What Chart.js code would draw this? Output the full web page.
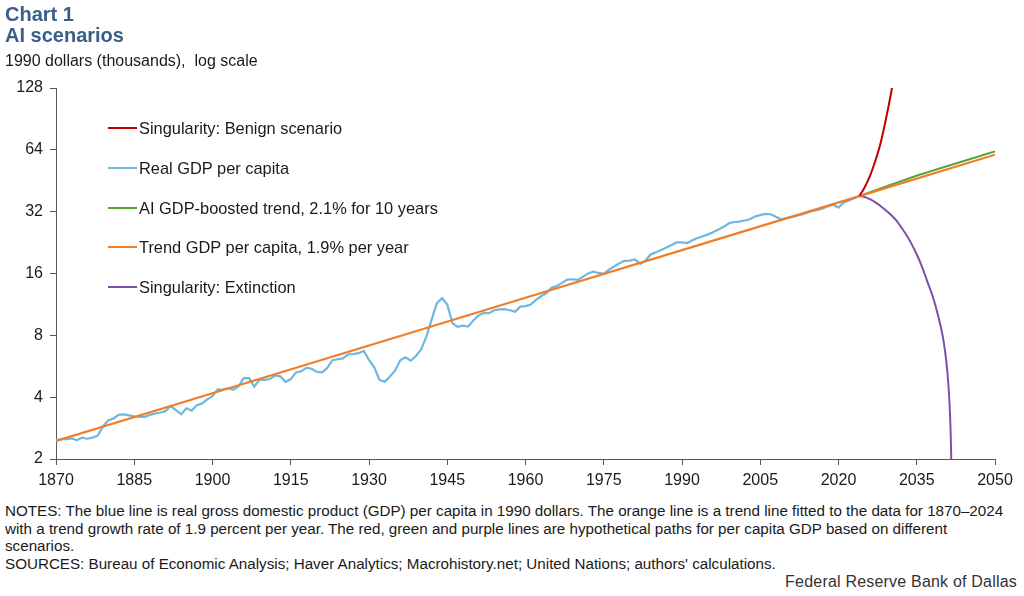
<!DOCTYPE html>
<html>
<head>
<meta charset="utf-8">
<script src="https://cdn.jsdelivr.net/npm/chart.js@4.4.1/dist/chart.umd.min.js"></script>
<style>
body{margin:0;background:#fff;font-family:"Liberation Sans",Arial,sans-serif;color:#1a1a1a;}
#wrap{position:relative;width:1024px;height:596px;overflow:hidden;}
.title{position:absolute;left:5px;font-weight:bold;font-size:20px;line-height:21px;color:#3b5d8a;}
.sub{position:absolute;left:5px;top:51px;font-size:16px;line-height:20px;}
#chartBox{position:absolute;left:0;top:0;width:1024px;height:500px;}
.leg{position:absolute;left:108px;height:20px;display:flex;align-items:center;font-size:16.4px;white-space:nowrap;}
.leg span{display:inline-block;width:29px;height:2px;margin-right:2px;}
.notes{position:absolute;left:5px;top:502px;font-size:15.2px;line-height:17.5px;white-space:nowrap;}
.fed{position:absolute;right:7px;top:573px;font-size:16px;letter-spacing:0.2px;color:#333;}
</style>
</head>
<body>
<div id="wrap">
  <div id="chartBox"><canvas id="chart"></canvas></div>
  <div class="title" style="top:4px">Chart 1</div>
  <div class="title" style="top:25px">AI scenarios</div>
  <div class="sub">1990 dollars (thousands),&nbsp; log scale</div>

  <div class="leg" style="top:118px"><span style="background:#c00000"></span>Singularity: Benign scenario</div>
  <div class="leg" style="top:158px"><span style="background:#6fb7de"></span>Real GDP per capita</div>
  <div class="leg" style="top:198px"><span style="background:#5aa33a"></span>AI GDP-boosted trend, 2.1% for 10 years</div>
  <div class="leg" style="top:237px"><span style="background:#f07d28"></span>Trend GDP per capita, 1.9% per year</div>
  <div class="leg" style="top:277px"><span style="background:#7d50a8"></span>Singularity: Extinction</div>

  <div class="notes">NOTES: The blue line is real gross domestic product (GDP) per capita in 1990 dollars. The orange line is a trend line fitted to the data for 1870–2024<br>with a trend growth rate of 1.9 percent per year. The red, green and purple lines are hypothetical paths for per capita GDP based on different<br>scenarios.<br>SOURCES: Bureau of Economic Analysis; Haver Analytics; Macrohistory.net; United Nations; authors' calculations.</div>
  <div class="fed">Federal Reserve Bank of Dallas</div>
</div>

<script>
/* =========================
   DATA
========================= */

// real GDP per capita, thousands of 1990 dollars, one value per year from 1870
const gdpStart = 1870;
const gdp = [
2.47,2.49,2.50,2.52,2.47,2.54,2.51,2.54,2.60,2.88,
3.08,3.15,3.28,3.30,3.26,3.23,3.21,3.21,3.28,3.33,
3.37,3.42,3.62,3.46,3.30,3.53,3.44,3.66,3.73,3.90,
4.05,4.37,4.35,4.42,4.34,4.52,4.95,4.95,4.50,4.86,
4.86,4.90,5.10,5.05,4.74,4.90,5.28,5.35,5.56,5.50,
5.32,5.28,5.55,6.05,6.12,6.18,6.47,6.48,6.55,6.72,
6.07,5.59,4.85,4.76,5.03,5.40,6.05,6.25,6.02,6.35,
6.84,7.89,9.51,11.47,12.13,11.30,9.16,8.80,8.92,8.82,
9.45,10.0,10.3,10.25,10.6,10.7,10.72,10.6,10.43,11.04,
11.1,11.3,11.9,12.4,12.85,13.65,13.92,14.4,14.95,15.0,
14.9,15.4,16.0,16.35,16.1,15.95,16.7,17.3,17.95,18.45,
18.5,18.75,17.8,18.5,19.8,20.3,20.8,21.4,22.0,22.7,
22.7,22.5,23.2,23.8,24.3,24.8,25.5,26.2,27.0,28.1,
28.5,28.6,29.0,29.4,30.3,30.8,31.2,31.1,30.2,29.4,
29.8,30.1,30.6,31.0,31.6,32.3,32.6,33.2,34.0,34.6,
33.5,35.5,36.3,37.2,38.1
];

// trend GDP per capita, 1.9% per year
const trendYears = [1870, 1900, 1930, 1960, 1990, 2024, 2050];
const trendValues = [2.45, 4.18, 7.14, 12.19, 20.8, 38.1, 60.6];

// AI GDP-boosted trend
const boostYears = [2024, 2029, 2034, 2050];
const boostValues = [38.1, 42.3, 46.9, 62.8];

// singularity: benign
const benignYears = [2024, 2025, 2026, 2027, 2028, 2029, 2030, 2031];
const benignValues = [38.1, 42, 47.5, 56, 68, 88, 118, 165];

// singularity: extinction
const extinctYears = [2024, 2025, 2026, 2027, 2028, 2029, 2030, 2031, 2032, 2033, 2034, 2035, 2036, 2037, 2038, 2039, 2040, 2040.5, 2041, 2041.4, 2041.6, 2041.75];
const extinctValues = [38.1, 37.7, 36.8, 35.6, 34.2, 32.6, 31.0, 29.2, 26.9, 24.7, 22.3, 19.8, 17.3, 14.7, 12.5, 10.2, 7.86, 6.48, 4.85, 3.2, 2.1, 1.2];

const yTicks = [2, 4, 8, 16, 32, 64, 128];

function pts(xs, ys){
  return xs.map((x,i)=>({x: x, y: ys[i]}));
}

/* =========================
   CHART
========================= */

const axisColor = "#595959";
const tickFont = {family: "'Liberation Sans', Arial, sans-serif", size: 16};

new Chart(document.getElementById("chart"), {
type: "line",
data: {
datasets: [
{
  label: "Singularity: Benign scenario",
  data: pts(benignYears, benignValues),
  borderColor: "#c00000",
  borderWidth: 2,
  cubicInterpolationMode: "monotone",
  order: 1
},
{
  label: "Trend GDP per capita, 1.9% per year",
  data: pts(trendYears, trendValues),
  borderColor: "#f07d28",
  borderWidth: 2.2,
  order: 2
},
{
  label: "AI GDP-boosted trend, 2.1% for 10 years",
  data: pts(boostYears, boostValues),
  borderColor: "#5aa33a",
  borderWidth: 2,
  cubicInterpolationMode: "monotone",
  order: 3
},
{
  label: "Singularity: Extinction",
  data: pts(extinctYears, extinctValues),
  borderColor: "#7d50a8",
  borderWidth: 2,
  cubicInterpolationMode: "monotone",
  order: 4
},
{
  label: "Real GDP per capita",
  data: gdp.map((v,i)=>({x: gdpStart + i, y: v})),
  borderColor: "#6fb7de",
  borderWidth: 2.2,
  order: 5
}
]
},
options: {
  responsive: true,
  maintainAspectRatio: false,
  animation: false,
  layout: {padding: {top: 88, right: 29, bottom: 11, left: 0}},
  elements: {point: {radius: 0}, line: {fill: false}},
  plugins: {legend: {display: false}, tooltip: {enabled: false}},
  scales: {
    x: {
      type: "linear",
      min: 1870,
      max: 2050,
      afterFit: s => { s.height = 30; },
      ticks: {stepSize: 15, color: "#1a1a1a", font: tickFont, padding: 6, maxRotation: 0,
        callback: v => String(v)},
      grid: {drawOnChartArea: false, drawTicks: true, tickLength: 6, color: axisColor},
      border: {display: true, color: axisColor, width: 1}
    },
    y: {
      type: "logarithmic",
      min: 2,
      max: 128,
      afterFit: s => { s.width = 56; },
      afterBuildTicks: s => { s.ticks = yTicks.map(v => ({value: v})); },
      ticks: {color: "#1a1a1a", font: tickFont, padding: 7, callback: v => String(v)},
      grid: {drawOnChartArea: false, drawTicks: true, tickLength: 6, color: axisColor},
      border: {display: true, color: axisColor, width: 1}
    }
  }
}
});
</script>
</body>
</html>
